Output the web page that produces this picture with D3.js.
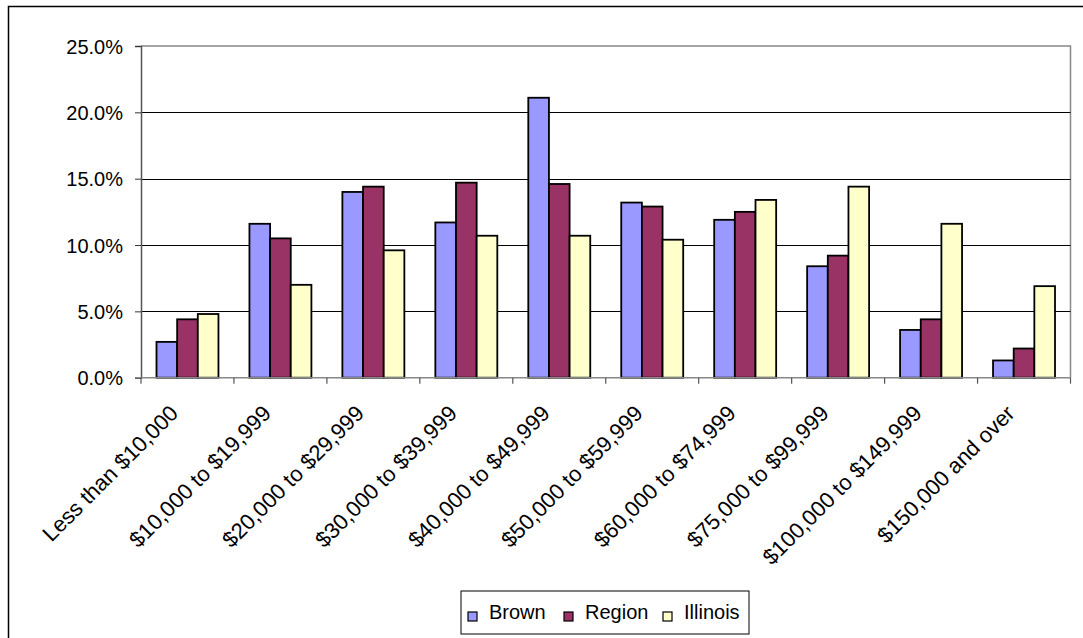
<!DOCTYPE html>
<html>
<head>
<meta charset="utf-8">
<script src="https://cdn.jsdelivr.net/npm/d3@7"></script>
<style>
  html, body { margin: 0; padding: 0; background: #fff; }
  svg { display: block; }
  text { font-family: "Liberation Sans", Arial, sans-serif; fill: #000; }
</style>
</head>
<body>
<svg id="chart" width="1083" height="638"></svg>
<script>
const categories = [
  "Less than $10,000", "$10,000 to $19,999", "$20,000 to $29,999", "$30,000 to $39,999",
  "$40,000 to $49,999", "$50,000 to $59,999", "$60,000 to $74,999", "$75,000 to $99,999",
  "$100,000 to $149,999", "$150,000 and over"
];
const seriesNames = ["Brown", "Region", "Illinois"];
const brown    = [2.7, 11.6, 14.0, 11.7, 21.1, 13.2, 11.9, 8.4, 3.6, 1.3];
const region   = [4.4, 10.5, 14.4, 14.7, 14.6, 12.9, 12.5, 9.2, 4.4, 2.2];
const illinois = [4.8, 7.0, 9.6, 10.7, 10.7, 10.4, 13.4, 14.4, 11.6, 6.9];
const yTicks = [0, 5, 10, 15, 20, 25];
const colors = ["#9999FF", "#993366", "#FFFFCC"];

const seriesValues = [brown, region, illinois];
const svg = d3.select("#chart");

// outer chart border
svg.append("rect").attr("x", 8.5).attr("y", 6.5).attr("width", 1090).attr("height", 650)
  .attr("fill", "none").attr("stroke", "#000").attr("stroke-width", 1.5);

const pLeft = 141, pRight = 1070.5, pTop = 46, pBottom = 377.7;

const x = d3.scaleBand().domain(categories).range([pLeft, pRight]).paddingInner(0).paddingOuter(0);
const y = d3.scaleLinear().domain([0, 25]).range([pBottom, pTop]);
const bw = x.bandwidth() / 4.5;
const xs = d3.scaleBand().domain(seriesNames).range([0.75 * bw, 3.75 * bw]).padding(0);

// plot area border (top/right)
svg.append("path")
  .attr("d", `M${pLeft},${pTop}H${pRight}V${pBottom}`)
  .attr("fill", "none").attr("stroke", "#888").attr("stroke-width", 1.5);

// gridlines
svg.append("g").selectAll("line").data(yTicks.filter(t => t > 0 && t < 25)).join("line")
  .attr("x1", pLeft).attr("x2", pRight)
  .attr("y1", d => Math.round(y(d)) + 0.5).attr("y2", d => Math.round(y(d)) + 0.5)
  .attr("stroke", "#000").attr("stroke-width", 1);

// bars
const groups = svg.append("g").selectAll("g").data(seriesNames).join("g")
  .attr("fill", (d, i) => colors[i]);
groups.each(function(name, si) {
  d3.select(this).selectAll("rect").data(seriesValues[si]).join("rect")
    .attr("x", (d, i) => x(categories[i]) + xs(name))
    .attr("y", d => y(d))
    .attr("width", xs.bandwidth())
    .attr("height", d => y(0) - y(d))
    .attr("stroke", "#000").attr("stroke-width", 1.8);
});

// y axis
const yAxis = d3.axisLeft(y).tickValues(yTicks).tickFormat(d => d.toFixed(1) + "%")
  .tickSize(6).tickPadding(12);
const gy = svg.append("g").attr("transform", `translate(${pLeft},0)`).call(yAxis);
gy.select(".domain").attr("stroke", "#555").attr("stroke-width", 1.5);
gy.selectAll(".tick line").attr("stroke", "#333");
gy.selectAll("text").attr("font-size", 20).attr("font-family", "Liberation Sans, Arial, sans-serif")
  .attr("dy", "0.35em");

// x axis
const gx = svg.append("g").attr("transform", `translate(0,${pBottom})`);
gx.append("line").attr("x1", pLeft - 6).attr("x2", pRight).attr("y1", 0).attr("y2", 0)
  .attr("stroke", "#888").attr("stroke-width", 1.5);
const bounds = categories.map(c => x(c)).concat([pRight]);
gx.selectAll("line.tk").data(bounds).join("line").attr("class", "tk")
  .attr("x1", d => d).attr("x2", d => d).attr("y1", 0).attr("y2", 6)
  .attr("stroke", "#555").attr("stroke-width", 1.2);
gx.selectAll("text").data(categories).join("text")
  .attr("transform", d => `translate(${x(d) + x.bandwidth() / 2 - 8},${37}) rotate(-45)`)
  .attr("text-anchor", "end")
  .attr("font-size", 22)
  .text(d => d);

// legend
const lg = svg.append("g");
lg.append("rect").attr("x", 461).attr("y", 591).attr("width", 288).attr("height", 43)
  .attr("fill", "#fff").attr("stroke", "#000").attr("stroke-width", 1);
const legX = [468, 564, 663];
seriesNames.forEach((n, i) => {
  lg.append("rect").attr("x", legX[i]).attr("y", 612).attr("width", 9).attr("height", 9)
    .attr("fill", colors[i]).attr("stroke", "#000").attr("stroke-width", 1.2);
  lg.append("text").attr("x", legX[i] + 21).attr("y", 619).attr("font-size", 20).text(n);
});
</script>
</body>
</html>
